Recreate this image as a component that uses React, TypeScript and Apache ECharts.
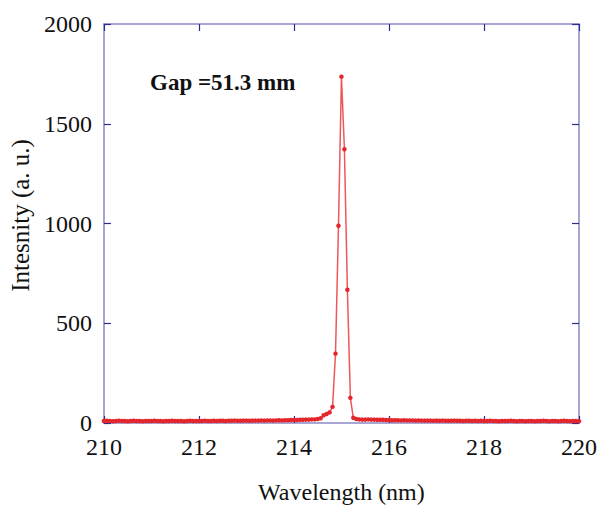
import React, { useEffect, useRef } from "react";
import * as echarts from "echarts";

const START_WAVELENGTH = 210;
const STEP = 0.0625;
const intensity: number[] = [
  10, 11, 10, 9, 10, 11, 10, 10, 9, 10, 11, 10, 10, 9, 10, 10,
  10, 11, 10, 10, 9, 10, 10, 11, 10, 10, 10, 9, 10, 11, 10, 10,
  10, 10, 11, 10, 10, 11, 10, 11, 11, 10, 11, 11, 12, 11, 11, 12,
  12, 11, 12, 12, 12, 13, 12, 13, 13, 12, 13, 14, 13, 14, 14, 15,
  15, 15, 16, 16, 17, 17, 18, 18, 20,
  24, 39, 45, 53, 81, 348, 989, 1736, 1372, 668, 126, 26,
  20, 18, 17, 17, 18, 17, 17, 16, 16, 16, 15,
  15, 14, 14, 14, 13, 14, 13, 13, 13, 12, 13, 12, 12, 12, 12, 11,
  12, 11, 12, 11, 11, 11, 12, 11, 11, 10, 11, 11, 10, 11, 10, 11,
  10, 10, 11, 10, 10, 9, 10, 10, 10, 11, 10, 9, 10, 10, 9, 10,
  10, 9, 10, 10, 11, 10, 9, 10, 10, 9, 10, 11, 10, 9, 10, 10, 9,
];
const xTicks = { min: 210, max: 220, interval: 2 };
const yTicks = { min: 0, max: 2000, interval: 500 };
const annotation = "Gap =51.3 mm";
const xName = "Wavelength (nm)";
const yName = "Intesnity (a. u.)";

const FONT = "'Liberation Serif', 'Times New Roman', serif";
const AXIS_LINE = "#8a8ac8";
const TICK = "#2c2c90";

export default function App() {
  const ref = useRef<HTMLDivElement>(null);
  useEffect(() => {
    if (!ref.current) return;
    const chart = echarts.init(ref.current, undefined, { renderer: "svg" });
    const data = intensity.map((v, i) => [START_WAVELENGTH + i * STEP, v]);
    const axisCommon = {
      axisLine: { show: true, onZero: false, lineStyle: { color: AXIS_LINE, width: 1.5 } },
      axisTick: { show: true, inside: true, length: 7, lineStyle: { color: TICK, width: 1.2 } },
      splitLine: { show: false },
    };
    chart.setOption({
      animation: false,
      backgroundColor: "#ffffff",
      grid: { left: 100, right: 20, top: 24, bottom: 73, containLabel: false },
      xAxis: [
        {
          type: "value",
          ...xTicks,
          ...axisCommon,
          axisLabel: { fontFamily: FONT, fontSize: 24, color: "#111", margin: 12, formatter: (v: number) => String(v) },
          name: xName,
          nameLocation: "middle",
          nameGap: 57,
          nameTextStyle: { fontFamily: FONT, fontSize: 24, color: "#111" },
        },
        {
          type: "value",
          position: "top",
          ...xTicks,
          ...axisCommon,
          axisLabel: { show: false },
        },
      ],
      yAxis: [
        {
          type: "value",
          ...yTicks,
          ...axisCommon,
          axisLabel: { fontFamily: FONT, fontSize: 24, color: "#111", margin: 12, formatter: (v: number) => String(v) },
          name: yName,
          nameLocation: "middle",
          nameGap: 66,
          nameTextStyle: { fontFamily: FONT, fontSize: 25, color: "#111", padding: [0, 0, 0, 16] },
        },
        {
          type: "value",
          position: "right",
          ...yTicks,
          ...axisCommon,
          axisLabel: { show: false },
        },
      ],
      graphic: [
        {
          type: "text",
          left: 150,
          top: 71,
          style: {
            text: annotation,
            fontFamily: FONT,
            fontSize: 23,
            fontWeight: "bold",
            fill: "#111",
          },
        },
      ],
      series: [
        {
          type: "line",
          data,
          xAxisIndex: 0,
          yAxisIndex: 0,
          symbol: "circle",
          symbolSize: 4.5,
          showSymbol: true,
          itemStyle: { color: "#e3262b" },
          lineStyle: { color: "rgba(232,45,45,0.8)", width: 1.5 },
          z: 3,
        },
      ],
    });
    return () => chart.dispose();
  }, []);
  return (
    <div
      ref={ref}
      style={{ position: "fixed", left: 0, top: 0, width: 600, height: 509 }}
    />
  );
}
